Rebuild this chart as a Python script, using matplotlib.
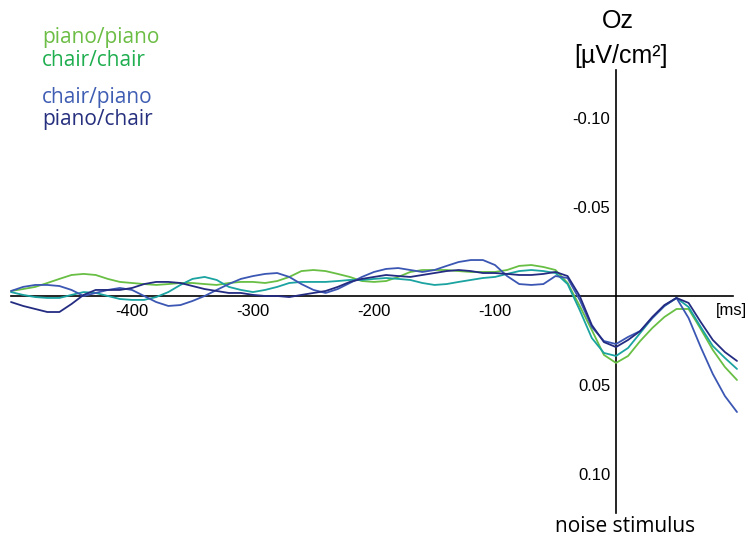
import matplotlib
matplotlib.use("Agg")
import matplotlib.pyplot as plt
import numpy as np

# time grid (ms) and averaged traces (uV/cm^2)
time_ms = np.arange(-500, 101, 10)

piano_piano = [
    -0.0028, -0.0039, -0.0051, -0.0073, -0.0096, -0.0118, -0.0124, -0.0118, -0.0096, -0.0079,
    -0.0073, -0.0067, -0.0062, -0.0067, -0.0073, -0.0073, -0.0067, -0.0062, -0.0073, -0.0079,
    -0.0079, -0.0073, -0.0084, -0.0107, -0.0140, -0.0146, -0.0140, -0.0124, -0.0107, -0.0084,
    -0.0079, -0.0084, -0.0107, -0.0135, -0.0146, -0.0146, -0.0146, -0.0140, -0.0135, -0.0135,
    -0.0135, -0.0146, -0.0169, -0.0174, -0.0163, -0.0146, -0.0073, 0.0056, 0.0191, 0.0331,
    0.0376, 0.0337, 0.0253, 0.0180, 0.0118, 0.0073, 0.0073, 0.0185, 0.0303, 0.0399, 0.0472]

chair_chair = [
    -0.0022, -0.0006, 0.0006, 0.0011, 0.0011, -0.0006, -0.0022, -0.0017, 0.0000, 0.0017,
    0.0022, 0.0022, 0.0006, -0.0022, -0.0062, -0.0096, -0.0107, -0.0090, -0.0051, -0.0034,
    -0.0022, -0.0034, -0.0051, -0.0073, -0.0079, -0.0079, -0.0079, -0.0084, -0.0090, -0.0090,
    -0.0096, -0.0101, -0.0096, -0.0090, -0.0073, -0.0062, -0.0067, -0.0079, -0.0090, -0.0101,
    -0.0107, -0.0124, -0.0140, -0.0146, -0.0140, -0.0129, -0.0067, 0.0079, 0.0236, 0.0320,
    0.0337, 0.0292, 0.0208, 0.0124, 0.0056, 0.0011, 0.0062, 0.0174, 0.0281, 0.0348, 0.0410]

chair_piano = [
    -0.0028, -0.0051, -0.0062, -0.0062, -0.0056, -0.0034, 0.0000, -0.0017, -0.0034, -0.0045,
    -0.0034, 0.0000, 0.0034, 0.0056, 0.0051, 0.0028, 0.0000, -0.0034, -0.0067, -0.0096,
    -0.0112, -0.0124, -0.0129, -0.0107, -0.0067, -0.0034, -0.0017, -0.0039, -0.0073, -0.0107,
    -0.0135, -0.0152, -0.0157, -0.0146, -0.0135, -0.0146, -0.0169, -0.0191, -0.0202, -0.0202,
    -0.0174, -0.0112, -0.0067, -0.0062, -0.0067, -0.0112, -0.0101, 0.0022, 0.0174, 0.0253,
    0.0270, 0.0230, 0.0197, 0.0124, 0.0056, 0.0011, 0.0124, 0.0287, 0.0438, 0.0562, 0.0652]

piano_chair = [
    0.0034, 0.0056, 0.0073, 0.0090, 0.0090, 0.0045, -0.0006, -0.0034, -0.0034, -0.0034,
    -0.0045, -0.0067, -0.0079, -0.0079, -0.0073, -0.0056, -0.0039, -0.0028, -0.0017, -0.0017,
    -0.0006, 0.0000, 0.0000, 0.0006, -0.0006, -0.0017, -0.0028, -0.0051, -0.0079, -0.0096,
    -0.0107, -0.0118, -0.0112, -0.0107, -0.0118, -0.0129, -0.0140, -0.0146, -0.0140, -0.0129,
    -0.0129, -0.0124, -0.0118, -0.0118, -0.0124, -0.0135, -0.0112, 0.0000, 0.0163, 0.0259,
    0.0287, 0.0247, 0.0197, 0.0118, 0.0051, 0.0011, 0.0039, 0.0146, 0.0247, 0.0315, 0.0365]

conditions = ["piano/piano", "chair/chair", "chair/piano", "piano/chair"]
line_colors = ["#68bf44", "#1aa3a0", "#3b57b3", "#242c82"]
label_colors = ["#6cbd45", "#1fae4f", "#3f5db3", "#27307f"]

x_ticks = [-400, -300, -200, -100]
y_ticks = [-0.10, -0.05, 0.05, 0.10]
y_tick_labels = ["-0.10", "-0.05", "0.05", "0.10"]

W, H = 748, 540


def fx(px):
    return px / W


def fy(py):
    return 1 - py / H


fig = plt.figure(figsize=(W / 100, H / 100), dpi=100)
ax = fig.add_axes([0, 0, 1, 1])
ax.patch.set_alpha(0)

for series, col in zip([piano_piano, chair_chair, chair_piano, piano_chair], line_colors):
    ax.plot(time_ms, series, color=col, lw=1.3, solid_joinstyle="round",
            solid_capstyle="round")

ax.set_xlim(-509.1, 109.1)
ax.set_ylim(0.1371, -0.1663)

for side in ["top", "right"]:
    ax.spines[side].set_visible(False)
ax.spines["left"].set_position(("data", 0))
ax.spines["bottom"].set_position(("data", 0))
ax.spines["left"].set_bounds(-0.127, 0.122)
ax.spines["bottom"].set_bounds(-500, 97)
for side in ["left", "bottom"]:
    ax.spines[side].set_linewidth(1.2)
    ax.spines[side].set_zorder(0)

ax.set_xticks(x_ticks)
ax.set_xticklabels([str(t) for t in x_ticks])
ax.set_yticks(y_ticks)
ax.set_yticklabels(y_tick_labels)
ax.tick_params(length=0, labelsize=12, colors="black")
ax.tick_params(axis="x", pad=6)
ax.tick_params(axis="y", pad=4)
for lab in ax.get_xticklabels() + ax.get_yticklabels():
    lab.set_fontfamily("Liberation Sans")

# axis annotations
fig.text(fx(731), fy(311), "[ms]", fontsize=12, family="Liberation Sans",
         ha="center", va="center")
fig.text(fx(618), fy(21), "Oz", fontsize=18, family="Liberation Sans",
         ha="center", va="center")
fig.text(fx(621), fy(56), "[µV/cm²]", fontsize=18, family="Liberation Sans",
         ha="center", va="center")
fig.text(fx(625), fy(526), "noise stimulus", fontsize=15, family="Open Sans",
         ha="center", va="center")

# condition labels
label_y = [37, 60, 97, 120]
for name, col, py in zip(conditions, label_colors, label_y):
    fig.text(fx(42), fy(py), name, fontsize=15, family="Open Sans",
             color=col, ha="left", va="center")

fig.savefig("out.png", dpi=100)
